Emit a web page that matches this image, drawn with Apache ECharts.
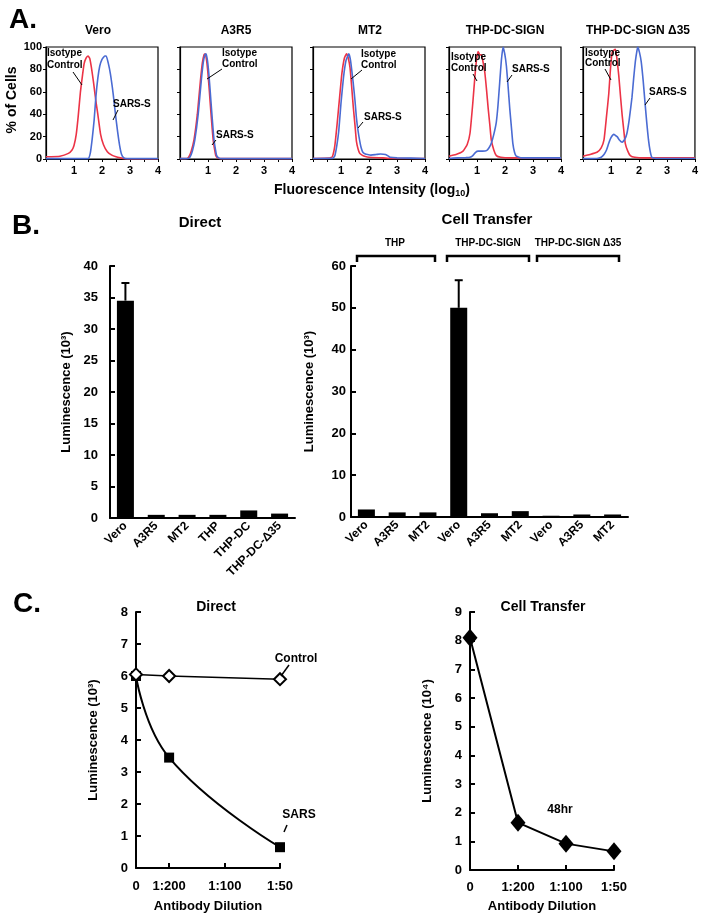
<!DOCTYPE html>
<html><head><meta charset="utf-8">
<script src="https://cdn.jsdelivr.net/npm/echarts@6/dist/echarts.min.js"></script>
<style>html,body{margin:0;padding:0;background:#fff}#c{width:701px;height:915px}</style>
</head><body><div id="c"></div>
<script>
// ---------- DATA ----------
// Panel A: flow histograms [log10 fluorescence, % of cells]
const histTitles = ['Vero', 'A3R5', 'MT2', 'THP-DC-SIGN', 'THP-DC-SIGN \u039435'];
const veroIso = [[0,2],[0.5,2.5],[0.8,5],[0.93,8],[1.0,12],[1.08,22],[1.15,38],[1.23,60],[1.3,74],[1.36,85],[1.43,90],[1.5,92],[1.56,90],[1.62,82],[1.7,68],[1.78,52],[1.85,40],[1.95,22],[2.05,13],[2.19,6.5],[2.35,3.5],[2.5,2],[2.66,1],[2.8,0.3],[3,0],[4,0]];
const veroSars = [[0,0.3],[1.5,0.3],[1.58,5],[1.65,18],[1.72,35],[1.78,55],[1.85,72],[1.92,83],[2.0,89],[2.1,92],[2.15,92],[2.22,86],[2.3,76],[2.4,58],[2.48,40],[2.56,24],[2.63,12],[2.7,4],[2.78,1],[2.9,0.3],[4,0.3]];
const a3r5Iso = [[0,0.3],[0.25,0.5],[0.32,2],[0.4,7],[0.5,17],[0.62,40],[0.73,70],[0.8,86],[0.86,93],[0.9,94],[0.95,88],[1.0,76],[1.05,60],[1.1,43],[1.15,27],[1.19,16],[1.24,8],[1.28,3],[1.35,1],[1.45,0.3],[4,0.3]];
const a3r5Sars = [[0,0.3],[0.3,0.5],[0.36,2],[0.44,7],[0.53,17],[0.65,40],[0.76,70],[0.83,86],[0.89,93],[0.93,94],[0.98,88],[1.03,76],[1.08,60],[1.13,43],[1.18,27],[1.22,16],[1.27,8],[1.31,3],[1.38,1],[1.5,0.3],[4,0.3]];
const mt2Iso = [[0,0.5],[0.6,0.8],[0.69,2],[0.78,12],[0.86,31],[0.95,55],[1.03,76],[1.12,90],[1.2,94],[1.26,90],[1.32,82],[1.38,65],[1.44,46],[1.5,30],[1.55,16],[1.61,9],[1.67,5],[1.75,3.5],[1.84,2.5],[2.0,1.5],[2.5,1],[2.8,0.5],[4,0.5]];
const mt2Sars = [[0,0.5],[0.7,0.6],[0.78,3],[0.85,12],[0.92,25],[1.0,50],[1.09,73],[1.18,88],[1.28,94],[1.34,88],[1.44,67],[1.5,52],[1.55,37],[1.61,25],[1.67,16],[1.72,10],[1.78,6],[1.87,4.5],[1.95,4],[2.07,3.5],[2.25,4],[2.41,4.5],[2.59,4],[2.7,2.5],[2.76,1.5],[3.0,1],[4,0.5]];
const dcIso = [[0,2.5],[0.25,4],[0.5,7],[0.65,13],[0.75,23],[0.85,50],[0.92,72],[0.98,88],[1.04,96],[1.1,93],[1.16,93],[1.22,86],[1.28,77],[1.34,62],[1.4,45],[1.46,30],[1.51,17],[1.6,8],[1.69,3],[1.85,1.5],[2.2,1],[4,1]];
const dcSars = [[0,0.5],[0.3,1],[0.6,1.2],[0.75,1.5],[0.85,3],[0.95,6],[1.04,7],[1.2,7],[1.34,7.5],[1.43,10],[1.51,14],[1.6,22],[1.69,33],[1.75,48],[1.81,68],[1.87,88],[1.93,100],[1.99,94],[2.05,83],[2.11,65],[2.17,45],[2.23,28],[2.28,14],[2.34,6],[2.4,2.5],[2.6,1],[4,1]];
const d35Iso = [[0,2.5],[0.25,4],[0.5,6],[0.65,10],[0.75,17],[0.84,38],[0.92,58],[0.98,80],[1.04,95],[1.1,97],[1.16,98],[1.22,88],[1.28,74],[1.34,56],[1.4,39],[1.46,25],[1.51,14],[1.6,7],[1.69,3],[1.85,1.5],[2.2,1],[4,1]];
const d35Sars = [[0,0.3],[0.5,0.5],[0.65,1.5],[0.75,4],[0.84,8],[0.92,14],[1.0,19],[1.1,22],[1.16,21],[1.22,20],[1.3,17],[1.4,15],[1.5,18],[1.57,23],[1.65,35],[1.75,55],[1.81,72],[1.87,87],[1.93,97],[1.96,100],[2.02,95],[2.08,87],[2.15,70],[2.22,49],[2.28,32],[2.34,17],[2.4,7],[2.46,1.5],[2.6,0.5],[4,0.5]];
const histIso = [veroIso, a3r5Iso, mt2Iso, dcIso, d35Iso];
const histSars = [veroSars, a3r5Sars, mt2Sars, dcSars, d35Sars];
const histXTicks = [1, 2, 3, 4];
const histYTicks = [0, 20, 40, 60, 80, 100];

// Panel B: luminescence (10^3)
const directCats = ['Vero', 'A3R5', 'MT2', 'THP', 'THP-DC', 'THP-DC-\u039435'];
const directValues = [34.5, 0.5, 0.5, 0.5, 1.2, 0.7];
const directErr = [2.8, 0, 0, 0, 0, 0];
const transferCats = ['Vero', 'A3R5', 'MT2', 'Vero', 'A3R5', 'MT2', 'Vero', 'A3R5', 'MT2'];
const transferValues = [1.8, 1.1, 1.1, 50, 0.9, 1.4, 0.3, 0.6, 0.6];
const transferErr = [0, 0, 0, 6.6, 0, 0, 0, 0, 0];
const transferGroups = ['THP', 'THP-DC-SIGN', 'THP-DC-SIGN \u039435'];

// Panel C: antibody dilution
const dilutionLabels = ['0', '1:200', '1:100', '1:50'];
const dilutionPosDirect = [0, 0.69, 1.85, 3];   // positions of the dilutions on the Direct axis
const directControl = [[0, 6.05], [0.69, 6.0], [3, 5.9]];
const directSars = [[0, 6.0], [0.69, 3.45], [3, 0.65]];
const transfer48 = [8.1, 1.65, 0.92, 0.65];

// ---------- CHART ----------
const FF = '"Liberation Sans", Arial, sans-serif';
const RED = '#ec3346', BLUE = '#4a6bd3';
const chart = echarts.init(document.getElementById('c'), null, {renderer: 'canvas'});

const grids = [], xAxes = [], yAxes = [], series = [];
const aLefts = [46, 180, 313, 449, 583];
aLefts.forEach((l, i) => {
  grids.push({left: l, top: 47, width: 112, height: 112, show: true, borderColor: '#000', borderWidth: 1.2, containLabel: false});
  xAxes.push({gridIndex: i, type: 'value', min: 0, max: 4, interval: 0.5,
    axisLine: {show: true, lineStyle: {color: '#000', width: 1.2}},
    axisTick: {show: true, inside: false, length: 3, lineStyle: {color: '#000'}},
    axisLabel: {color: '#000', fontFamily: FF, fontWeight: 'bold', fontSize: 11, margin: 6,
      formatter: v => histXTicks.indexOf(v) >= 0 ? String(v) : ''},
    splitLine: {show: false}});
  yAxes.push({gridIndex: i, type: 'value', min: 0, max: 100, interval: 20,
    axisLine: {show: true, lineStyle: {color: '#000', width: 1.2}},
    axisTick: {show: true, inside: false, length: 3, lineStyle: {color: '#000'}},
    axisLabel: {show: i === 0, color: '#000', fontFamily: FF, fontWeight: 'bold', fontSize: 11, margin: 4,
      formatter: v => histYTicks.indexOf(v) >= 0 ? String(v) : ''},
    splitLine: {show: false}});
  series.push({type: 'line', xAxisIndex: i, yAxisIndex: i, data: histIso[i], showSymbol: false, symbol: 'none',
    smooth: 0.15, lineStyle: {color: RED, width: 1.6}, itemStyle: {color: RED}, silent: true, z: 3});
  series.push({type: 'line', xAxisIndex: i, yAxisIndex: i, data: histSars[i], showSymbol: false, symbol: 'none',
    smooth: 0.15, lineStyle: {color: BLUE, width: 1.6}, itemStyle: {color: BLUE}, silent: true, z: 4});
});

const axisLblB = {color: '#000', fontFamily: FF, fontWeight: 'bold', fontSize: 13};
const nameStyle = {color: '#000', fontFamily: FF, fontWeight: 'bold', fontSize: 13};
// B left
grids.push({left: 110, top: 266, width: 185, height: 252});
xAxes.push({gridIndex: 5, type: 'category', data: directCats,
  axisLine: {lineStyle: {color: '#000', width: 2}}, axisTick: {show: false},
  axisLabel: {interval: 0, rotate: 45, color: '#000', fontFamily: FF, fontWeight: 'bold', fontSize: 12, margin: 6}});
yAxes.push({gridIndex: 5, type: 'value', min: 0, max: 40, interval: 5,
  name: 'Luminescence (10\u00b3)', nameLocation: 'middle', nameGap: 37, nameRotate: 90, nameTextStyle: nameStyle,
  axisLine: {show: true, lineStyle: {color: '#000', width: 2}},
  axisTick: {show: true, inside: true, length: 5, lineStyle: {color: '#000', width: 2}},
  axisLabel: Object.assign({margin: 12}, axisLblB), splitLine: {show: false}});
series.push({type: 'bar', xAxisIndex: 5, yAxisIndex: 5, data: directValues, barWidth: 17, itemStyle: {color: '#000'}, silent: true});
// B right
grids.push({left: 351, top: 266, width: 277, height: 251});
xAxes.push({gridIndex: 6, type: 'category', data: transferCats.map((c, i) => c + '#' + i),
  axisLine: {lineStyle: {color: '#000', width: 2}}, axisTick: {show: false},
  axisLabel: {interval: 0, rotate: 45, color: '#000', fontFamily: FF, fontWeight: 'bold', fontSize: 12, margin: 6,
    formatter: v => v.split('#')[0]}});
yAxes.push({gridIndex: 6, type: 'value', min: 0, max: 60, interval: 10,
  name: 'Luminescence (10\u00b3)', nameLocation: 'middle', nameGap: 35, nameRotate: 90, nameTextStyle: nameStyle,
  axisLine: {show: true, lineStyle: {color: '#000', width: 2}},
  axisTick: {show: true, inside: true, length: 5, lineStyle: {color: '#000', width: 2}},
  axisLabel: Object.assign({margin: 5}, axisLblB), splitLine: {show: false}});
series.push({type: 'bar', xAxisIndex: 6, yAxisIndex: 6, data: transferValues, barWidth: 17, itemStyle: {color: '#000'}, silent: true});

function errSeries(ax, vals, errs) {
  return {type: 'custom', xAxisIndex: ax, yAxisIndex: ax, silent: true, z: 5,
    data: vals.map((v, i) => [i, v, errs[i]]).filter(d => d[2] > 0),
    renderItem: (params, api) => {
      const x = api.value(0), v = api.value(1), e = api.value(2);
      const p0 = api.coord([x, v]), p1 = api.coord([x, v + e]);
      return {type: 'group', children: [
        {type: 'line', shape: {x1: p0[0], y1: p0[1], x2: p1[0], y2: p1[1]}, style: {stroke: '#000', lineWidth: 2}},
        {type: 'line', shape: {x1: p1[0] - 4, y1: p1[1], x2: p1[0] + 4, y2: p1[1]}, style: {stroke: '#000', lineWidth: 2}}
      ]};
    }};
}
series.push(errSeries(5, directValues, directErr));
series.push(errSeries(6, transferValues, transferErr));

// C left
grids.push({left: 136, top: 612, width: 144, height: 256});
xAxes.push({gridIndex: 7, type: 'value', min: 0, max: 3,
  name: 'Antibody Dilution', nameLocation: 'middle', nameGap: 32, nameTextStyle: nameStyle,
  axisLine: {lineStyle: {color: '#000', width: 2}},
  axisTick: {show: true, inside: true, length: 5, lineStyle: {color: '#000', width: 2}, customValues: dilutionPosDirect.slice(1)},
  axisLabel: Object.assign({margin: 12, customValues: dilutionPosDirect,
    formatter: v => { const k = dilutionPosDirect.findIndex(p => Math.abs(p - v) < 1e-6); return k >= 0 ? dilutionLabels[k] : ''; }}, axisLblB),
  splitLine: {show: false}});
yAxes.push({gridIndex: 7, type: 'value', min: 0, max: 8, interval: 1,
  name: 'Luminescence (10\u00b3)', nameLocation: 'middle', nameGap: 36, nameRotate: 90, nameTextStyle: nameStyle,
  axisLine: {show: true, lineStyle: {color: '#000', width: 2}},
  axisTick: {show: true, inside: true, length: 5, lineStyle: {color: '#000', width: 2}},
  axisLabel: Object.assign({margin: 8}, axisLblB), splitLine: {show: false}});
series.push({type: 'line', xAxisIndex: 7, yAxisIndex: 7, data: directSars, smooth: 0.45, symbol: 'rect', symbolSize: 10,
  lineStyle: {color: '#000', width: 2}, itemStyle: {color: '#000'}, silent: true, z: 3});
series.push({type: 'line', xAxisIndex: 7, yAxisIndex: 7, data: directControl, symbol: 'diamond', symbolSize: [12, 12],
  lineStyle: {color: '#000', width: 1.5}, itemStyle: {color: '#fff', borderColor: '#000', borderWidth: 2}, silent: true, z: 4});

// C right
grids.push({left: 470, top: 612, width: 144, height: 258});
xAxes.push({gridIndex: 8, type: 'category', data: dilutionLabels, boundaryGap: false,
  name: 'Antibody Dilution', nameLocation: 'middle', nameGap: 30, nameTextStyle: nameStyle,
  axisLine: {lineStyle: {color: '#000', width: 2}},
  axisTick: {show: true, inside: true, length: 5, lineStyle: {color: '#000', width: 2}},
  axisLabel: Object.assign({margin: 11, interval: 0}, axisLblB)});
yAxes.push({gridIndex: 8, type: 'value', min: 0, max: 9, interval: 1,
  name: 'Luminescence (10\u2074)', nameLocation: 'middle', nameGap: 36, nameRotate: 90, nameTextStyle: nameStyle,
  axisLine: {show: true, lineStyle: {color: '#000', width: 2}},
  axisTick: {show: true, inside: true, length: 5, lineStyle: {color: '#000', width: 2}},
  axisLabel: Object.assign({margin: 8}, axisLblB), splitLine: {show: false}});
series.push({type: 'line', xAxisIndex: 8, yAxisIndex: 8, data: transfer48, symbol: 'diamond', symbolSize: [15, 18],
  lineStyle: {color: '#000', width: 2}, itemStyle: {color: '#000'}, silent: true});

// ---------- annotations ----------
function txt(x, y, s, size, align, extra) {
  return Object.assign({type: 'text', x: x, y: y, silent: true, z: 100, style: {text: s, fill: '#000',
    font: 'bold ' + size + 'px ' + FF, textAlign: align || 'center', textVerticalAlign: 'middle',
    align: align || 'center', verticalAlign: 'middle'}}, extra || {});
}
function ln(x1, y1, x2, y2, w) {
  return {type: 'line', silent: true, z: 100, shape: {x1: x1, y1: y1, x2: x2, y2: y2}, style: {stroke: '#000', lineWidth: w || 1}};
}
function bracket(x1, x2, yTop, yBot) {
  return {type: 'polyline', silent: true, z: 100, shape: {points: [[x1, yBot], [x1, yTop], [x2, yTop], [x2, yBot]]},
    style: {stroke: '#000', lineWidth: 2.5, fill: null}};
}
const g = [];
g.push(txt(23, 20, 'A.', 28));
const aTitleX = [98, 236, 370, 505, 638];
histTitles.forEach((t, i) => g.push(txt(aTitleX[i], 31, t, 12)));
g.push(txt(12, 100, '% of Cells', 14, 'center', {rotation: Math.PI / 2}));
g.push({type: 'text', x: 372, y: 190, silent: true, z: 100, style: {
  text: '{a|Fluorescence Intensity (log}{s|10}{a|)}', fill: '#000', textAlign: 'center', textVerticalAlign: 'middle', align: 'center', verticalAlign: 'middle',
  rich: {a: {font: 'bold 14px ' + FF, fill: '#000'}, s: {font: 'bold 9px ' + FF, fill: '#000', padding: [8, 0, 0, 0]}}}});
// Vero
g.push(txt(47, 53, 'Isotype', 10, 'left')); g.push(txt(47, 65, 'Control', 10, 'left')); g.push(ln(73, 72, 82, 85));
g.push(txt(113, 104, 'SARS-S', 10, 'left')); g.push(ln(118, 110, 113, 120));
// A3R5
g.push(txt(222, 53, 'Isotype', 10, 'left')); g.push(txt(222, 64, 'Control', 10, 'left')); g.push(ln(222, 69, 207, 79));
g.push(txt(216, 135, 'SARS-S', 10, 'left')); g.push(ln(216, 140, 212, 145));
// MT2
g.push(txt(361, 54, 'Isotype', 10, 'left')); g.push(txt(361, 65, 'Control', 10, 'left')); g.push(ln(362, 70, 351, 79));
g.push(txt(364, 117, 'SARS-S', 10, 'left')); g.push(ln(363, 122, 358, 128));
// THP-DC-SIGN
g.push(txt(451, 57, 'Isotype', 10, 'left')); g.push(txt(451, 68, 'Control', 10, 'left')); g.push(ln(473, 74, 477, 81));
g.push(txt(512, 69, 'SARS-S', 10, 'left')); g.push(ln(512, 75, 507, 82));
// delta35
g.push(txt(585, 53, 'Isotype', 10, 'left')); g.push(txt(585, 63, 'Control', 10, 'left')); g.push(ln(605, 69, 611, 80));
g.push(txt(649, 92, 'SARS-S', 10, 'left')); g.push(ln(650, 98, 645, 105));

g.push(txt(26, 226, 'B.', 28));
g.push(txt(200, 223, 'Direct', 15));
g.push(txt(487, 220, 'Cell Transfer', 15));
g.push(txt(395, 243, transferGroups[0], 10)); g.push(bracket(357, 435, 256, 262));
g.push(txt(488, 243, transferGroups[1], 10)); g.push(bracket(447, 529, 256, 262));
g.push(txt(578, 243, transferGroups[2], 10)); g.push(bracket(537, 619, 256, 262));

g.push(txt(27, 604, 'C.', 28));
g.push(txt(216, 607, 'Direct', 14));
g.push(txt(543, 607, 'Cell Transfer', 14));
g.push(txt(296, 659, 'Control', 12)); g.push(ln(289, 665, 281, 676, 1.5));
g.push(txt(299, 815, 'SARS', 12)); g.push(ln(287, 825, 284, 832, 1.5));
g.push(txt(560, 810, '48hr', 12));

chart.setOption({
  animation: false,
  backgroundColor: '#fff',
  textStyle: {fontFamily: FF},
  grid: grids, xAxis: xAxes, yAxis: yAxes, series: series,
  graphic: {elements: g}
});
</script></body></html>
